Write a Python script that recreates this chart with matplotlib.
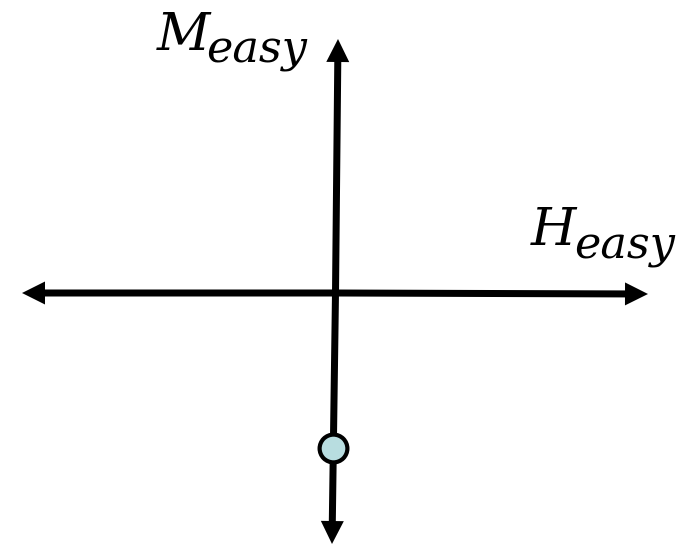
"""
Easy-axis magnetisation sketch: H_easy / M_easy axes with a remanent state marker
"""
import matplotlib
matplotlib.use('Agg')
import matplotlib.pyplot as plt

# Axis end points (pixel-like data units, y grows downward)
origin = (335.5, 293)
h_ends = [(22, 293), (648, 294)]
v_ends = [(338, 39), (332, 544)]

# State point on the M axis
state_x = [333]
state_y = [448]

# Axis labels: symbol + subscript, each placed at its baseline
symbols = ['M', 'H']
subscripts = ['easy', 'easy']
symbol_pos = [(157, 50), (531, 245)]
subscript_pos = [(206, 62), (574, 258)]

fig = plt.figure(figsize=(6.98, 5.46), dpi=100, facecolor='white')
ax = fig.add_axes([0, 0, 1, 1])
ax.set_xlim(0, 698)
ax.set_ylim(546, 0)
ax.axis('off')

# Each axis is two single-headed arrows running out from the origin
for end in h_ends + v_ends:
    ax.arrow(origin[0], origin[1], end[0] - origin[0], end[1] - origin[1],
             width=7, head_width=23, head_length=23,
             length_includes_head=True, color='black', lw=0, zorder=2)

ax.plot(state_x, state_y, marker='o', markersize=20, markerfacecolor='#B8DDE0',
        markeredgecolor='black', markeredgewidth=3, linestyle='none', zorder=3)

font = dict(family='DejaVu Serif', style='italic', color='black',
            ha='left', va='baseline')
for sym, (x, y) in zip(symbols, symbol_pos):
    ax.text(x, y, sym, fontsize=37.5, **font)
for sub, (x, y) in zip(subscripts, subscript_pos):
    ax.text(x, y, sub, fontsize=32, **font)

fig.savefig('out.png', dpi=100, facecolor='white')
plt.close(fig)
